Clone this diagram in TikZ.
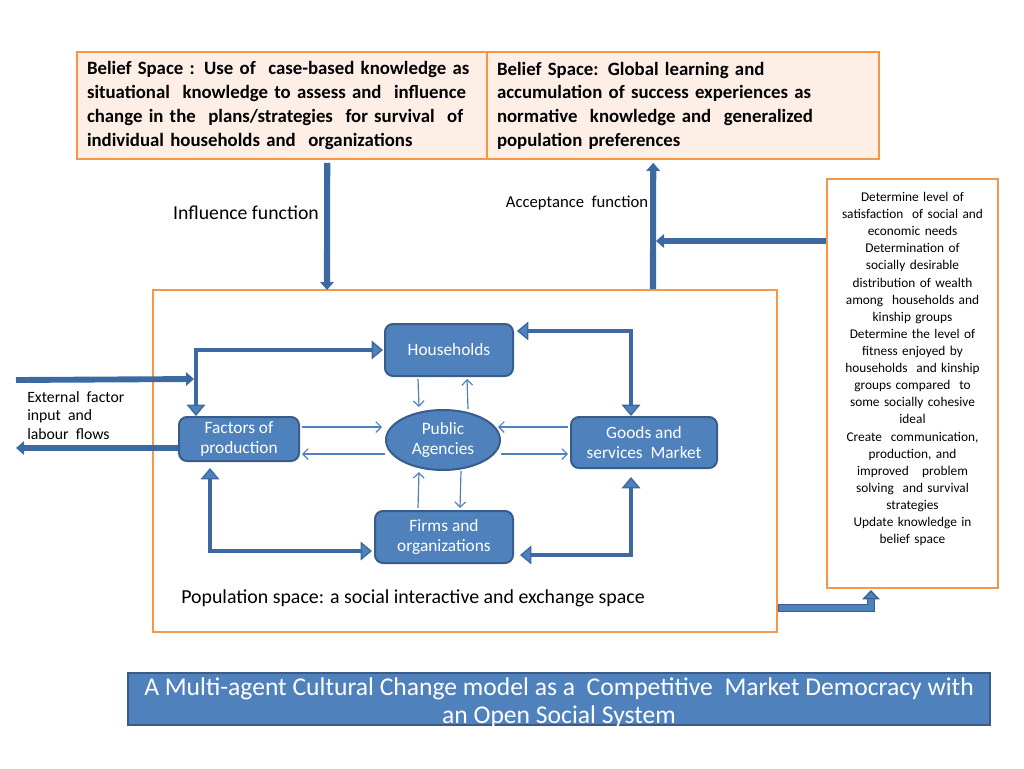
\documentclass[tikz,border=0pt]{standalone}
\usepackage{fontspec}
\setmainfont{Carlito}
\usetikzlibrary{arrows.meta,shapes.geometric,calc}
\definecolor{orng}{HTML}{F79646}
\definecolor{peach}{HTML}{FDEEE6}
\definecolor{nfill}{HTML}{4F81BD}
\definecolor{nborder}{HTML}{385D8A}
\definecolor{conn}{HTML}{3D69A3}
\definecolor{thinc}{HTML}{4F81BD}
\begin{document}
\begin{tikzpicture}[x=0.75pt,y=-0.75pt,
  agent/.style={draw=nborder, line width=1.5pt, fill=nfill, rounded corners=6pt, text=white,
    font=\fontsize{13}{15}\selectfont, align=center, inner sep=0pt},
  belief/.style={draw=orng, line width=1.2pt, fill=peach, inner xsep=7.5pt, inner ysep=0pt,
    minimum height=80.25pt, align=left, font=\bfseries\fontsize{14.1}{17.8}\selectfont},
  spacebox/.style={draw=orng, line width=1.5pt, fill=white, inner sep=0pt},
  lbl/.style={inner sep=0pt, text=black},
  thick conn/.style={draw=conn, line width=2.6pt,
    {Triangle[width=14pt,length=8.5pt,fill=nfill,line width=1pt]}-{Triangle[width=14pt,length=8.5pt,fill=nfill,line width=1pt]}},
  big arrow/.style={draw=conn, line width=4.6pt, -{Triangle[width=10pt,length=6pt]}},
  thin arrow/.style={draw=thinc, line width=0.9pt, -{Straight Barb[length=4pt,width=8pt]}}
]
\useasboundingbox[fill=white] (0,0) rectangle (1024,768);

% belief spaces
\node[belief, text width=292.5pt] (bl) at (282,105.5)
  {Belief Space : Use of~ case-based knowledge as\\situational~ knowledge to assess and~ influence\\change in the~ plans/strategies~ for survival~ of\\individual households and~ organizations};
\node[belief, text width=279pt] (br) at (683,105.5)
  {Belief Space: Global learning and\\accumulation of success experiences as\\normative~ knowledge and~ generalized\\population preferences};

% population space
\node[spacebox, minimum width=468pt, minimum height=256.5pt] (pop) at (465,461) {};
\node[lbl, anchor=west, font=\fontsize{14.9}{17}\selectfont] (popl) at (181,598)
  {Population space: a social interactive and exchange space};

% right evaluation box
\node[spacebox, minimum width=128.25pt, minimum height=306.75pt] (rb) at (912.5,383.5) {};
\node[lbl, anchor=north, text width=126pt, align=center, font=\fontsize{10}{12.83}\selectfont] (rbt) at (912.5,192)
  {Determine level of\\satisfaction~ of social and\\economic needs\\Determination of\\socially desirable\\distribution of wealth\\among~ households and\\kinship groups\\Determine the level of\\fitness enjoyed by\\households~ and kinship\\groups compared~ to\\some socially cohesive\\ideal\\Create~ communication,\\production, and\\improved~~ problem\\solving~ and survival\\strategies\\Update knowledge in\\belief space};

% labels
\node[lbl, font=\fontsize{14.8}{17}\selectfont] (infl) at (246,213) {Influence function};
\node[lbl, font=\fontsize{12.5}{15}\selectfont] (acc) at (577,203) {Acceptance~ function};
\node[lbl, anchor=north west, align=left, font=\fontsize{11.8}{13.9}\selectfont] (ext) at (27,391)
  {External~ factor\\input~ and\\labour~ flows};

% agents
\node[agent, minimum width=96pt, minimum height=39pt] (hh) at (449,350) {Households};
\node[agent, ellipse, rounded corners=0pt, minimum width=85.5pt, minimum height=45pt] (pa) at (443,440) {Public\\Agencies};
\node[agent, minimum width=90pt, minimum height=33pt] (fp) at (239,439) {Factors of\\production};
\node[agent, minimum width=109.5pt, minimum height=38.25pt] (gs) at (644,442.5) {Goods and\\services~ Market};
\node[agent, minimum width=103.5pt, minimum height=39pt] (fo) at (444,537) {Firms and\\organizations};

% caption
\node[draw=nborder, line width=1.5pt, fill=nfill, text=white, minimum width=646.5pt, minimum height=39pt,
  inner sep=0pt, align=center, font=\fontsize{19.2}{21.5}\selectfont] (cap) at (559,699) {};
\node[lbl, text=white, align=center, font=\fontsize{19.2}{21.5}\selectfont] (capt) at (559,702.5)
  {A Multi-agent Cultural Change model as a~ Competitive~ Market Democracy with\\an Open Social System};

% big arrows between spaces
\draw[big arrow] ($(bl.south west)+(251,3)$) -- ($(pop.north west)+(175,1)$);
\draw[big arrow] ($(pop.north west)+(501,0)$) -- ($(br.south west)+(167,3)$);
\draw[big arrow] ($(rb.north west)+(0,63)$) -- ($(pop.north west)+(504,-48)$);

% external flows
\coordinate (extin) at (16,380);
\coordinate (extout) at (16,448);
\draw[big arrow, line width=4.4pt] (extin) -- ($(fp.north west)+(16,-37)$);
\draw[big arrow, line width=4.4pt] ($(fp.west)+(0,9)$) -- (extout);

% thick two-way connectors
\draw[thick conn] ($(fp.north west)+(18,0)$) |- ($(hh.west)+(-1,0)$);
\draw[thick conn] ($(hh.east)+(3,-19)$) -| ($(gs.north west)+(61,0)$);
\draw[thick conn] ($(gs.south west)+(61,8)$) |- ($(fo.east)+(6,18)$);
\draw[thick conn] ($(fp.south west)+(32,6)$) |- ($(fo.west)+(-2,14)$);

% thin connectors around public agencies
\draw[thin arrow] ($(hh.south west)+(34,2)$) -- ($(pa.north)+(-24,-2)$);
\draw[thin arrow] ($(pa.north)+(25,0)$) -- ($(hh.south west)+(83,2)$);
\draw[thin arrow] ($(fp.east)+(2,-12)$) -- ($(pa.west)+(-3,-13)$);
\draw[thin arrow] ($(pa.west)+(0,14)$) -- ($(fp.east)+(2,15)$);
\draw[thin arrow] ($(gs.west)+(-2,-15.5)$) -- ($(pa.east)+(-3,-13)$);
\draw[thin arrow] ($(pa.east)+(0,14)$) -- ($(gs.west)+(-2,11.5)$);
\draw[thin arrow] ($(fo.north west)+(44,-2)$) -- ($(pa.south)+(-24,1)$);
\draw[thin arrow] ($(pa.south)+(18,0)$) -- ($(fo.north west)+(86,-2)$);

% outlined block arrow to evaluation box
\draw[draw=nborder, line width=6.5pt, -{Triangle[width=13pt,length=7pt,fill=nfill,line width=1pt]}]
  ($(pop.east)+(0,147)$) -| ($(rb.south west)+(45,1)$);
\draw[draw=nfill, line width=4pt, line cap=butt, shorten >=7pt]
  ($(pop.east)+(1,147)$) -| ($(rb.south west)+(45,1)$);
\end{tikzpicture}
\end{document}
